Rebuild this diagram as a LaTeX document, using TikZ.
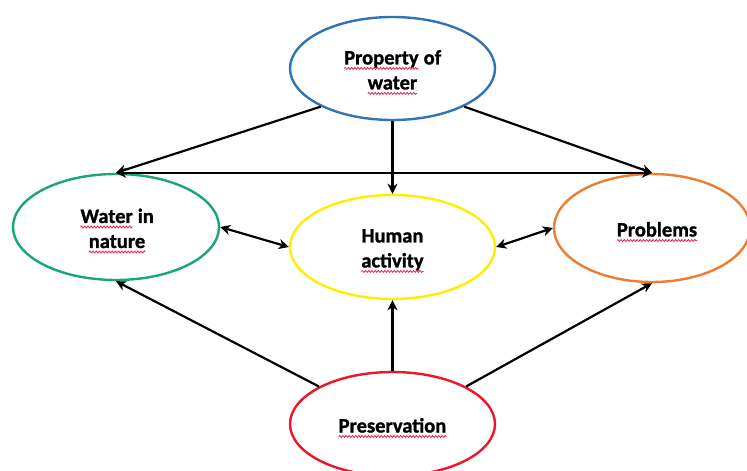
\documentclass[tikz,border=0pt]{standalone}
\usepackage{fontspec}
\setmainfont[BoldFeatures={FakeBold=1.2}]{Carlito}
\usetikzlibrary{shapes.geometric,arrows.meta,decorations.pathmorphing}

\definecolor{ringblue}{RGB}{46,117,182}
\definecolor{ringgreen}{RGB}{24,168,112}
\definecolor{ringyellow}{RGB}{255,238,0}
\definecolor{ringorange}{RGB}{237,125,49}
\definecolor{ringred}{RGB}{240,20,40}
\definecolor{spellred}{RGB}{230,40,80}

% word with a red wavy spell-check underline
\newcommand{\spell}[1]{\tikz[baseline=(w.base),x=1pt,y=1pt]{%
  \node[shape=rectangle, draw=none, fill=none, inner sep=0pt, outer sep=0pt,
        minimum width=0pt, minimum height=0pt, text=black] (w) {#1};
  \draw[spellred, line width=0.8pt, decorate,
        decoration={snake, amplitude=1pt, segment length=3.2pt}]
    ([yshift=-4pt]w.base west) -- ([yshift=-4pt]w.base east);}}

\tikzset{
  bubble/.style={ellipse, draw=#1, line width=2.4pt, inner sep=0pt},
  words/.style={align=center, text=black, inner sep=0pt,
    font=\fontsize{20.5}{25}\selectfont\bfseries, yshift=-4pt},
  link/.style={line width=2.2pt, -{Stealth[length=10pt,width=10pt,inset=3pt]}},
  twolink/.style={line width=2.2pt, {Stealth[length=10pt,width=10pt,inset=3pt]}-{Stealth[length=10pt,width=10pt,inset=3pt]}},
}

\begin{document}
\begin{tikzpicture}[x=1pt,y=-1pt]
  \useasboundingbox[fill=white] (0,0) rectangle (747,471);

  \node[bubble=ringblue, minimum width=205pt, minimum height=103pt,
        label={[words]center:{\spell{Property} of\\\spell{water}}}] (prop) at (392.5,68.5) {};
  \node[bubble=ringgreen, minimum width=206pt, minimum height=106pt,
        label={[words, xshift=1pt]center:{\spell{Water} in\\\spell{nature}}}] (nature) at (116,227) {};
  \node[bubble=ringyellow, minimum width=205pt, minimum height=104pt,
        label={[words]center:{Human\\\spell{activity}}}] (human) at (392.5,247) {};
  \node[bubble=ringorange, minimum width=196pt, minimum height=108pt,
        label={[words, xshift=5pt]center:{\spell{Problems}}}] (prob) at (652,228) {};
  \node[bubble=ringred, minimum width=205pt, minimum height=104pt,
        label={[words]center:{\spell{Preservation}}}] (pres) at (392.5,424) {};

  \draw[link] (prop.208) -- (nature.north);
  \draw[link] (prop.332) -- (prob.north);
  \draw[twolink] (nature.north) -- (prob.north);
  \draw[link] (prop.south) -- (human.north);
  \draw[twolink] (nature.east) -- (human.west);
  \draw[twolink] (human.east) -- (prob.west);
  \draw[link] (pres.153) -- (nature.south);
  \draw[link] (pres.north) -- (human.south);
  \draw[link] (pres.27) -- (prob.south);
\end{tikzpicture}
\end{document}
